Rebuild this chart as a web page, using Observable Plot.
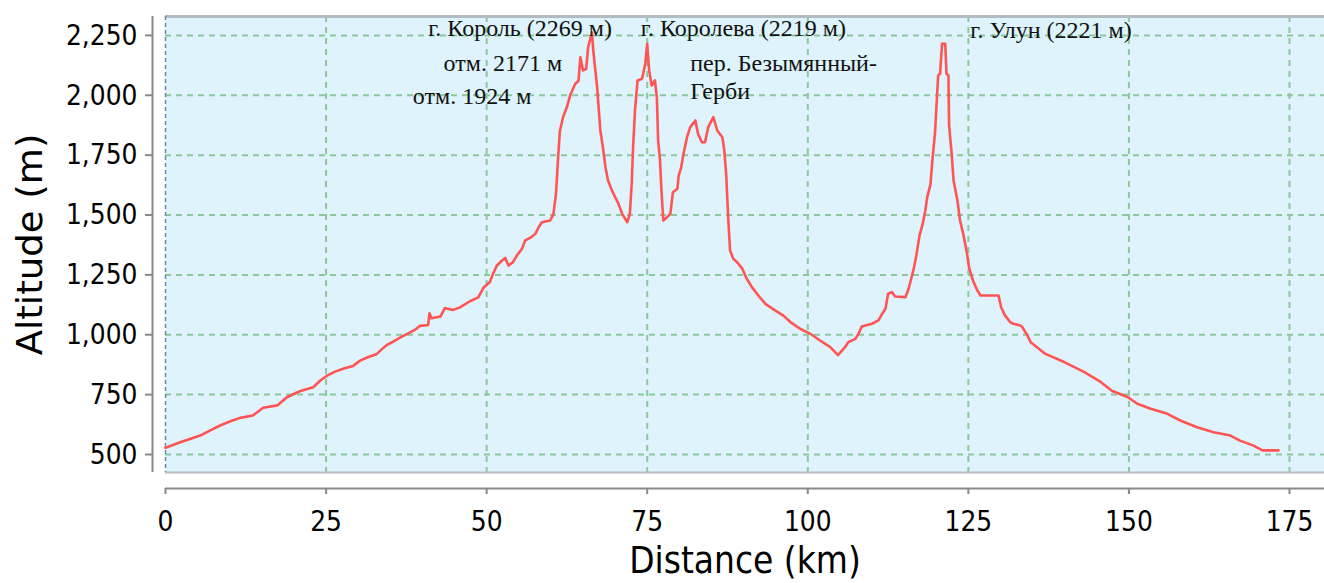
<!DOCTYPE html>
<html>
<head>
<meta charset="utf-8">
<script src="https://cdn.jsdelivr.net/npm/d3@7"></script>
<script src="https://cdn.jsdelivr.net/npm/@observablehq/plot@0.6"></script>
<style>
  html, body { margin: 0; padding: 0; background: #ffffff; }
  #chart { width: 1324px; height: 583px; overflow: hidden; }
</style>
</head>
<body>
<div id="chart"></div>
<script>
// ---- data ----
const distanceKm = [
  0, 2.3, 3.8, 5.4, 6.9, 8.5, 10.0, 11.6, 13.6, 15.2, 17.4, 18.9, 20.9, 23.0, 24.1,
  25.1, 26.4, 27.9, 29.2, 30.3, 31.5, 32.9, 33.7, 34.5, 35.7, 36.8, 37.8, 38.8, 39.6,
  40.9, 41.1, 41.4, 42.8, 43.5, 44.8, 45.9, 47.4, 48.7, 49.5, 50.5, 51.0, 51.6, 52.4,
  52.9, 53.4, 54.1, 54.7, 55.5, 56.0, 56.8, 57.6, 58.1, 58.6, 59.9, 60.4, 60.8, 61.1,
  61.4, 61.9, 62.5, 63.0, 63.8, 64.3, 64.6, 65.0, 65.5, 65.8, 66.4, 66.6, 67.2, 67.7,
  68.1, 68.5, 68.9, 69.5, 70.0, 70.5, 71.1, 71.9, 72.3, 72.6, 72.8, 73.1, 73.5, 74.2,
  74.7, 75.0, 75.3, 75.7, 76.2, 76.5, 76.7, 77.0, 77.2, 77.5, 78.1, 78.6, 79.0, 79.7,
  79.9, 80.3, 80.6, 81.2, 81.7, 82.5, 82.9, 83.5, 84.0, 84.5, 85.3, 85.9, 86.7, 87.0,
  87.3, 87.6, 87.9, 88.4, 89.0, 89.8, 90.5, 91.3, 92.3, 93.4, 94.9, 96.2, 97.3, 98.8,
  100.4, 101.9, 103.5, 104.7, 105.8, 106.3, 107.4, 107.9, 108.4, 110.0, 111.0, 111.6,
  112.1, 112.5, 113.1, 113.6, 115.2, 115.7, 116.1, 116.5, 116.9, 117.4, 117.9, 118.3,
  118.6, 119.1, 119.4, 119.8, 120.3, 120.6, 120.9, 121.4, 121.6, 121.9, 122.0, 122.4,
  122.7, 123.3, 123.7, 124.2, 124.8, 125.1, 125.7, 126.4, 126.9, 129.7, 130.1, 130.7,
  131.5, 132.0, 133.1, 133.4, 134.2, 134.7, 137.0, 140.0, 143.0, 145.6, 147.4, 149.8,
  151.3, 153.4, 156.0, 158.0, 160.6, 163.2, 165.8, 167.3, 169.4, 170.8, 173.3
];
const altitudeM = [
  528, 551, 565, 579, 600, 621, 638, 653, 663, 695, 705, 739, 764, 781, 809,
  828, 846, 860, 870, 892, 906, 920, 940, 958, 975, 992, 1006, 1020, 1037,
  1041, 1090, 1069, 1076, 1111, 1104, 1115, 1140, 1156, 1196, 1220, 1255, 1289, 1310,
  1321, 1289, 1303, 1331, 1359, 1394, 1405, 1422, 1449, 1470, 1477, 1505, 1589, 1728,
  1850, 1909, 1951, 2000, 2048, 2060, 2159, 2104, 2110, 2201, 2262, 2187, 2034, 1853,
  1783, 1700, 1644, 1603, 1575, 1548, 1505, 1470, 1505, 1638, 1782, 1937, 2062, 2069,
  2132, 2215, 2104, 2041, 2062, 1992, 1811, 1728, 1610, 1477, 1491, 1505, 1595, 1610,
  1665, 1700, 1749, 1825, 1867, 1895, 1840, 1804, 1804, 1867, 1909, 1853, 1825, 1770,
  1670, 1491, 1352, 1317, 1303, 1276, 1234, 1199, 1164, 1129, 1102, 1080, 1053, 1025,
  1004, 976, 948, 915, 948, 969, 983, 1004, 1034, 1046, 1060, 1088,
  1109, 1171, 1178, 1160, 1157, 1192, 1234, 1276, 1331, 1415, 1464, 1519,
  1575, 1628, 1728, 1840, 2083, 2090, 2215, 2215, 2090, 2083, 1874, 1756,
  1644, 1561, 1477, 1422, 1338, 1282, 1227, 1185, 1164, 1164, 1115, 1081,
  1053, 1046, 1039, 1032, 997, 969, 920, 885, 845, 803, 765, 740,
  712, 691, 670, 642, 614, 593, 579, 558, 537, 517, 517
];
const labelTexts = [
  "г. Король (2269 м)", "отм. 2171 м", "отм. 1924 м",
  "г. Королева (2219 м)", "пер. Безымянный-", "Герби", "г. Улун (2221 м)"
];
const labelKm = [40.9, 43.3, 38.5, 74.0, 81.7, 81.7, 125.3];
const labelAlt = [2279, 2133, 1995, 2279, 2133, 2016, 2273];
const xTicks = [0, 25, 50, 75, 100, 125, 150, 175];
const yTicks = [500, 750, 1000, 1250, 1500, 1750, 2000, 2250];
const xTitle = "Distance (km)";
const yTitle = "Altitude (m)";

// ---- tables built from the arrays ----
const profile = distanceKm.map((d, i) => ({km: d, alt: altitudeM[i]}));
const labels = labelTexts.map((t, i) => ({text: t, km: labelKm[i], alt: labelAlt[i]}));

const xDomain = [0, 180.45];
const yDomain = [424.8, 2329];
const bg = "#def3fc";
const gridColor = "#8cc79e";
const axisColor = "#888888";

const svg = Plot.plot({
  width: 1324,
  height: 583,
  marginLeft: 165,
  marginRight: 0,
  marginTop: 16,
  marginBottom: 111,
  x: {domain: xDomain},
  y: {domain: yDomain},
  style: {fontFamily: "DejaVu Sans, sans-serif", background: "#ffffff", overflow: "visible"},
  marks: [
    Plot.frame({fill: bg, stroke: null}),
    Plot.gridY(yTicks, {stroke: gridColor, strokeOpacity: 1, strokeWidth: 2, strokeDasharray: "6,5"}),
    Plot.gridX(xTicks.filter(d => d > 0), {stroke: gridColor, strokeOpacity: 1, strokeWidth: 2, strokeDasharray: "6,5"}),
    Plot.ruleY([yDomain[1]], {stroke: "#b2bac2", strokeWidth: 3}),
    Plot.ruleY([yDomain[0]], {stroke: "#b8bec4", strokeWidth: 2}),
    Plot.ruleX([0], {stroke: "#6f7fb8", strokeWidth: 1.5, strokeDasharray: "4,3"}),
    Plot.line(profile, {x: "km", y: "alt", stroke: "#ff5454", strokeWidth: 2.6}),
    Plot.text(labels, {
      x: "km", y: "alt", text: "text", textAnchor: "start", lineAnchor: "middle",
      fontFamily: "Liberation Serif, Times New Roman, serif", fontSize: 24, fill: "#111"
    }),
    Plot.ruleX([0], {dx: -13, stroke: axisColor, strokeWidth: 2}),
    Plot.axisY(yTicks, {
      anchor: "left", dx: -13, tickSize: 7, tickPadding: 8, tickFormat: d3.format(","),
      fontSize: 25, stroke: axisColor, strokeWidth: 2, fill: "#000", label: null
    }),
    Plot.ruleY([yDomain[0]], {dy: 16, stroke: axisColor, strokeWidth: 2}),
    Plot.axisX(xTicks, {
      anchor: "bottom", dy: 16, tickSize: 6, tickPadding: 17,
      fontSize: 25, stroke: axisColor, strokeWidth: 2, fill: "#000", label: null
    }),
    Plot.text([yTitle], {
      frameAnchor: "left", textAnchor: "middle", lineAnchor: "middle",
      dx: -135, rotate: -90, fontSize: 35, fill: "#000"
    }),
    Plot.text([xTitle], {
      frameAnchor: "bottom", textAnchor: "middle", lineAnchor: "middle",
      dy: 89, fontSize: 33, fill: "#000"
    })
  ]
});

document.getElementById("chart").appendChild(svg);

// vertical stretch of sans-serif texts (the reference glyphs are taller than wide)
function stretch(el, sx, sy) {
  const b = el.getBBox();
  const cx = b.x + b.width / 2, cy = b.y + b.height / 2;
  const t = el.getAttribute("transform") || "";
  el.setAttribute("transform", `${t} translate(${cx},${cy}) scale(${sx},${sy}) translate(${-cx},${-cy})`);
}
svg.querySelectorAll("text").forEach(el => {
  const s = el.textContent;
  if (s === yTitle) stretch(el, 1.06, 1);
  else if (s === xTitle) stretch(el, 1, 1.12);
  else if (/^[0-9,]+$/.test(s)) stretch(el, 1, 1.15);
});
</script>
</body>
</html>
